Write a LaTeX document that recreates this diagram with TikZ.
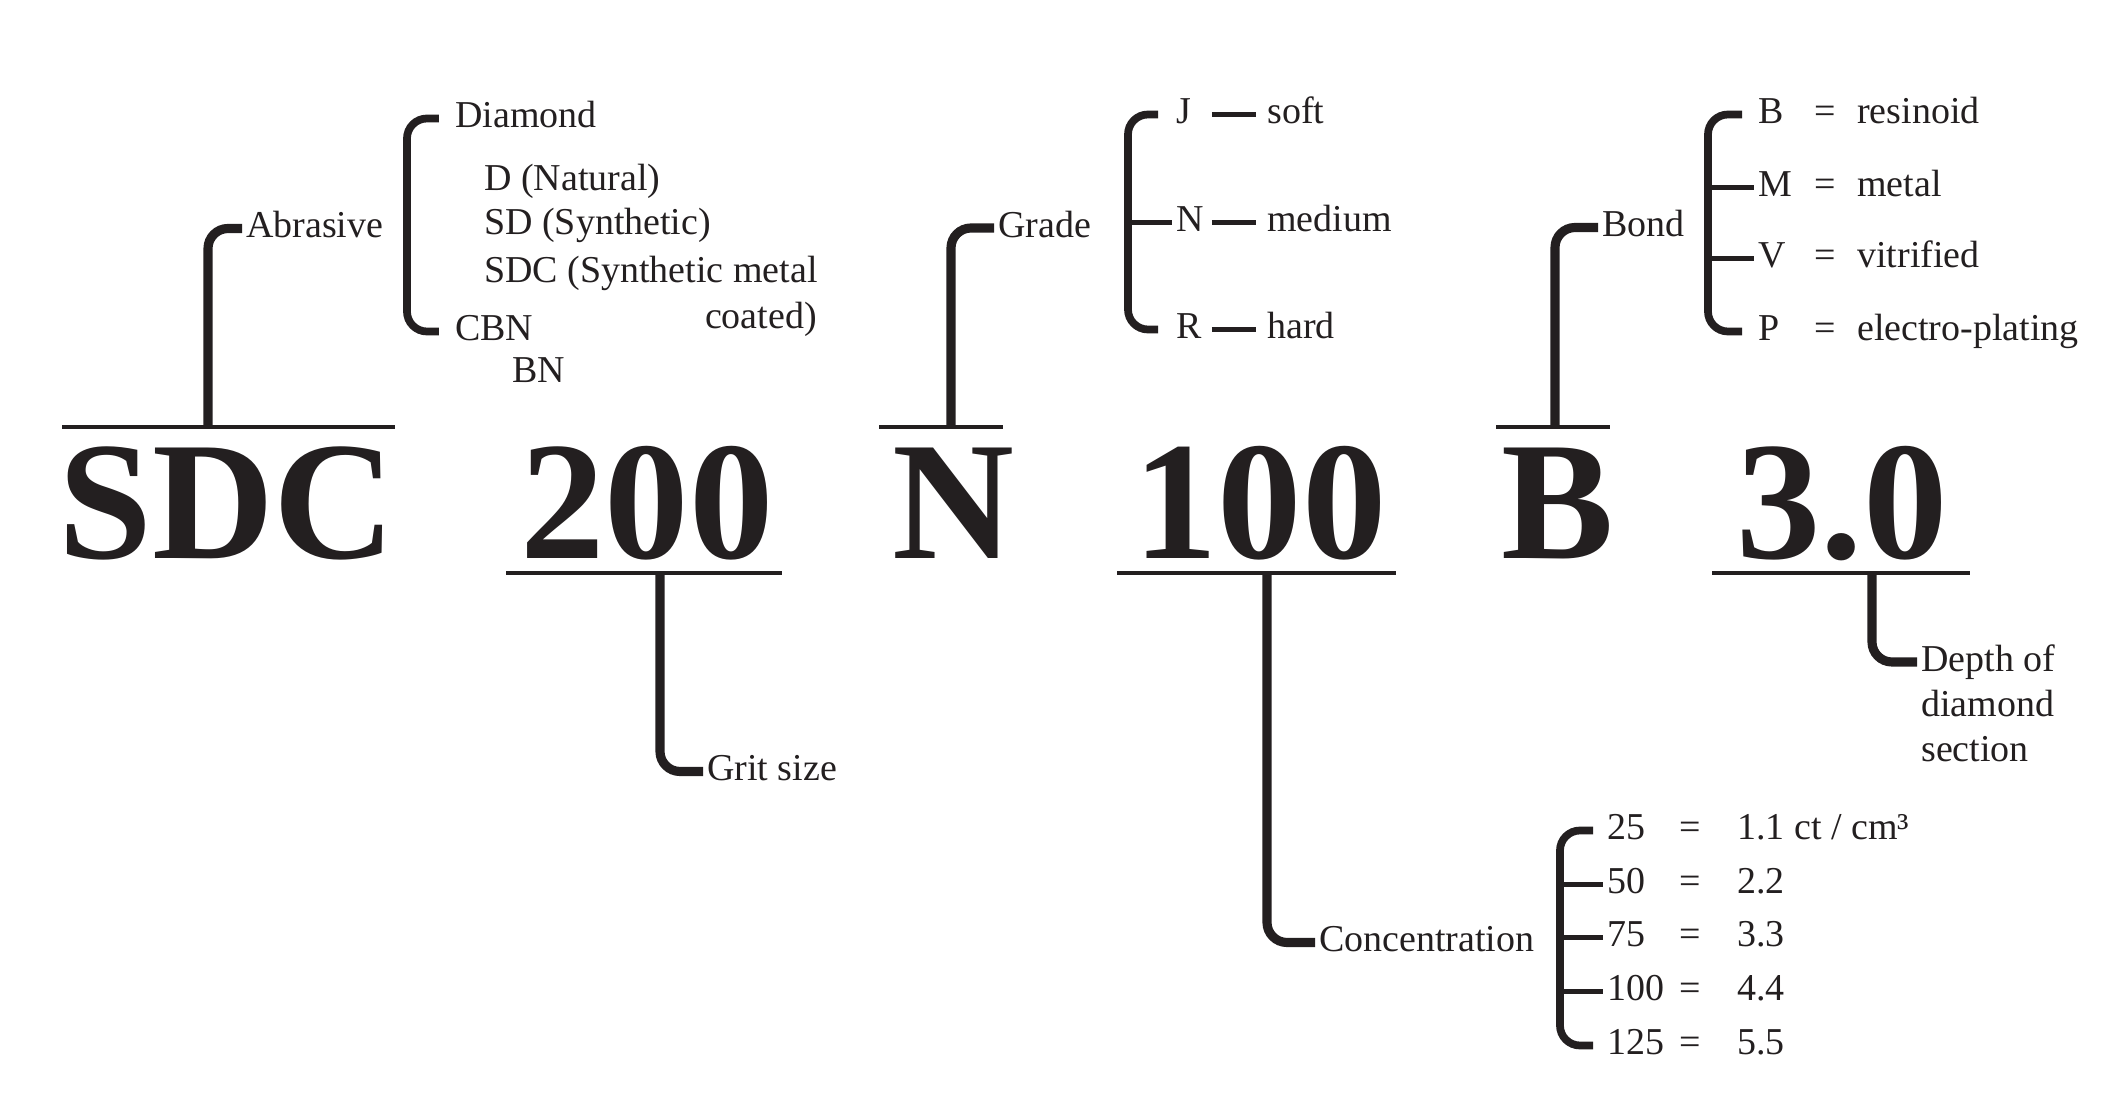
\documentclass[tikz,border=0pt]{standalone}
\usepackage{fontspec}
\setmainfont{Liberation Serif}
\definecolor{ink}{RGB}{35,31,32}

\begin{document}
\begin{tikzpicture}[x=0.01cm, y=-0.01cm, color=ink,
			txt/.style={font=\fontsize{10.8}{12.8}\selectfont, inner sep=1pt, anchor=west},
			item/.style={txt, text height=7.6pt, text depth=2.2pt},
			eq/.style={item, anchor=center},
			code/.style={font=\fontsize{48}{48}\selectfont\bfseries, inner sep=0pt, anchor=base},
			bar/.style={line width=1.1pt},
			stem/.style={line width=2.6pt, rounded corners=0.2cm},
			brace/.style={line width=2.2pt, rounded corners=0.2cm},
			tick/.style={line width=1.2pt}]
			\useasboundingbox (0,0) rectangle (2103,1098);

			\node[code] (csdc) at (227,559) {SDC};
			\node[code] (c200) at (647,559) {200};
			\node[code] (cN) at (953,559) {N};
			\node[code] (c100) at (1260,559) {100};
			\node[code] (cB) at (1558,559) {B};
			\node[code] (c30) at (1842,559) {3.0};

			\draw[bar] (62,427) -- (395,427);
			\draw[bar] (506,573) -- (782,573);
			\draw[bar] (879,427) -- (1003,427);
			\draw[bar] (1117,573) -- (1396,573);
			\draw[bar] (1496,427) -- (1610,427);
			\draw[bar] (1712,573) -- (1970,573);

			\coordinate (abrup) at (208,427);
			\coordinate (gritdn) at (660,573);
			\coordinate (grdup) at (951,427);
			\coordinate (concdn) at (1267,573);
			\coordinate (bndup) at (1555,427);
			\coordinate (depdn) at (1872,573);

			\node[item] (abr) at (242,228.5) {Abrasive};
			\node[item] (diamond) at (451,118.5) {Diamond};
			\node[item] (natural) at (480,181.5) {D (Natural)};
			\node[item] (synth) at (480,225.5) {SD (Synthetic)};
			\node[item] (coat) at (480,273.5) {SDC (Synthetic metal};
			\node[item, anchor=east] (coated) at (821,319.5) {coated)};
			\node[item] (cbn) at (451,331.5) {CBN};
			\node[item] (bn) at (508,373.5) {BN};
			\draw[brace] ([xshift=-0.12cm]diamond.west) -- ([xshift=-0.44cm]diamond.west) |- ([xshift=-0.12cm]cbn.west);
			\draw[stem] (abrup) |- (abr.west);

			\node[item] (grit) at (703,771.5) {Grit size};
			\draw[stem] (gritdn) |- (grit.west);

			\node[item] (grd) at (994,228) {Grade};
			\node[item] (gJ) at (1172,114.5) {J};
			\node[item] (gN) at (1172,222.5) {N};
			\node[item] (gR) at (1172,329.5) {R};
			\node[item] (soft) at (1263,114.5) {soft};
			\node[item] (medium) at (1263,222.5) {medium};
			\node[item] (hard) at (1263,329.5) {hard};
			\draw[brace] ([xshift=-0.14cm]gJ.west) -- ([xshift=-0.44cm]gJ.west) |- ([xshift=-0.14cm]gR.west);
			\draw[tick] ([xshift=-0.44cm]gN.west) -- (gN.west);
			\draw[tick] ([xshift=-0.51cm]soft.west) -- ([xshift=-0.07cm]soft.west);
			\draw[tick] ([xshift=-0.51cm]medium.west) -- ([xshift=-0.07cm]medium.west);
			\draw[tick] ([xshift=-0.51cm]hard.west) -- ([xshift=-0.07cm]hard.west);
			\draw[stem] (grdup) |- (grd.west);

			\node[item] (conc) at (1315,942.5) {Concentration};
			\node[item] (k25) at (1603,830.5) {25};
			\node[item] (k50) at (1603,884.5) {50};
			\node[item] (k75) at (1603,937.5) {75};
			\node[item] (k100) at (1603,991.5) {100};
			\node[item] (k125) at (1603,1045.5) {125};
			\node[eq] at (1690,830.5) {=};
			\node[eq] at (1690,884.5) {=};
			\node[eq] at (1690,937.5) {=};
			\node[eq] at (1690,991.5) {=};
			\node[eq] at (1690,1045.5) {=};
			\node[item] (v25) at (1733,830.5) {1.1 ct / cm³};
			\node[item] (v50) at (1733,884.5) {2.2};
			\node[item] (v75) at (1733,937.5) {3.3};
			\node[item] (v100) at (1733,991.5) {4.4};
			\node[item] (v125) at (1733,1045.5) {5.5};
			\draw[brace] ([xshift=-0.10cm]k25.west) -- ([xshift=-0.43cm]k25.west) |- ([xshift=-0.10cm]k125.west);
			\draw[tick] ([xshift=-0.43cm]k50.west) -- (k50.west);
			\draw[tick] ([xshift=-0.43cm]k75.west) -- (k75.west);
			\draw[tick] ([xshift=-0.43cm]k100.west) -- (k100.west);
			\draw[stem] (concdn) |- (conc.west);

			\node[item] (bnd) at (1598,227.5) {Bond};
			\node[item] (bB) at (1754,114.5) {B};
			\node[item] (bM) at (1754,187.5) {M};
			\node[item] (bV) at (1754,258.5) {V};
			\node[item] (bP) at (1754,331.5) {P};
			\node[eq] at (1825,114.5) {=};
			\node[eq] at (1825,187.5) {=};
			\node[eq] at (1825,258.5) {=};
			\node[eq] at (1825,331.5) {=};
			\node[item] (resin) at (1853,114.5) {resinoid};
			\node[item] (metal) at (1853,187.5) {metal};
			\node[item] (vitri) at (1853,258.5) {vitrified};
			\node[item] (plate) at (1853,331.5) {electro-plating};
			\draw[brace] ([xshift=-0.12cm]bB.west) -- ([xshift=-0.46cm]bB.west) |- ([xshift=-0.12cm]bP.west);
			\draw[tick] ([xshift=-0.46cm]bM.west) -- (bM.west);
			\draw[tick] ([xshift=-0.46cm]bV.west) -- (bV.west);
			\draw[stem] (bndup) |- (bnd.west);

			\node[txt, anchor=north west, align=left] (dep) at (1917,641) {Depth of\\diamond\\section};
			\draw[stem] (depdn) |- ([yshift=-0.21cm]dep.north west);
		\end{tikzpicture}
\end{document}
